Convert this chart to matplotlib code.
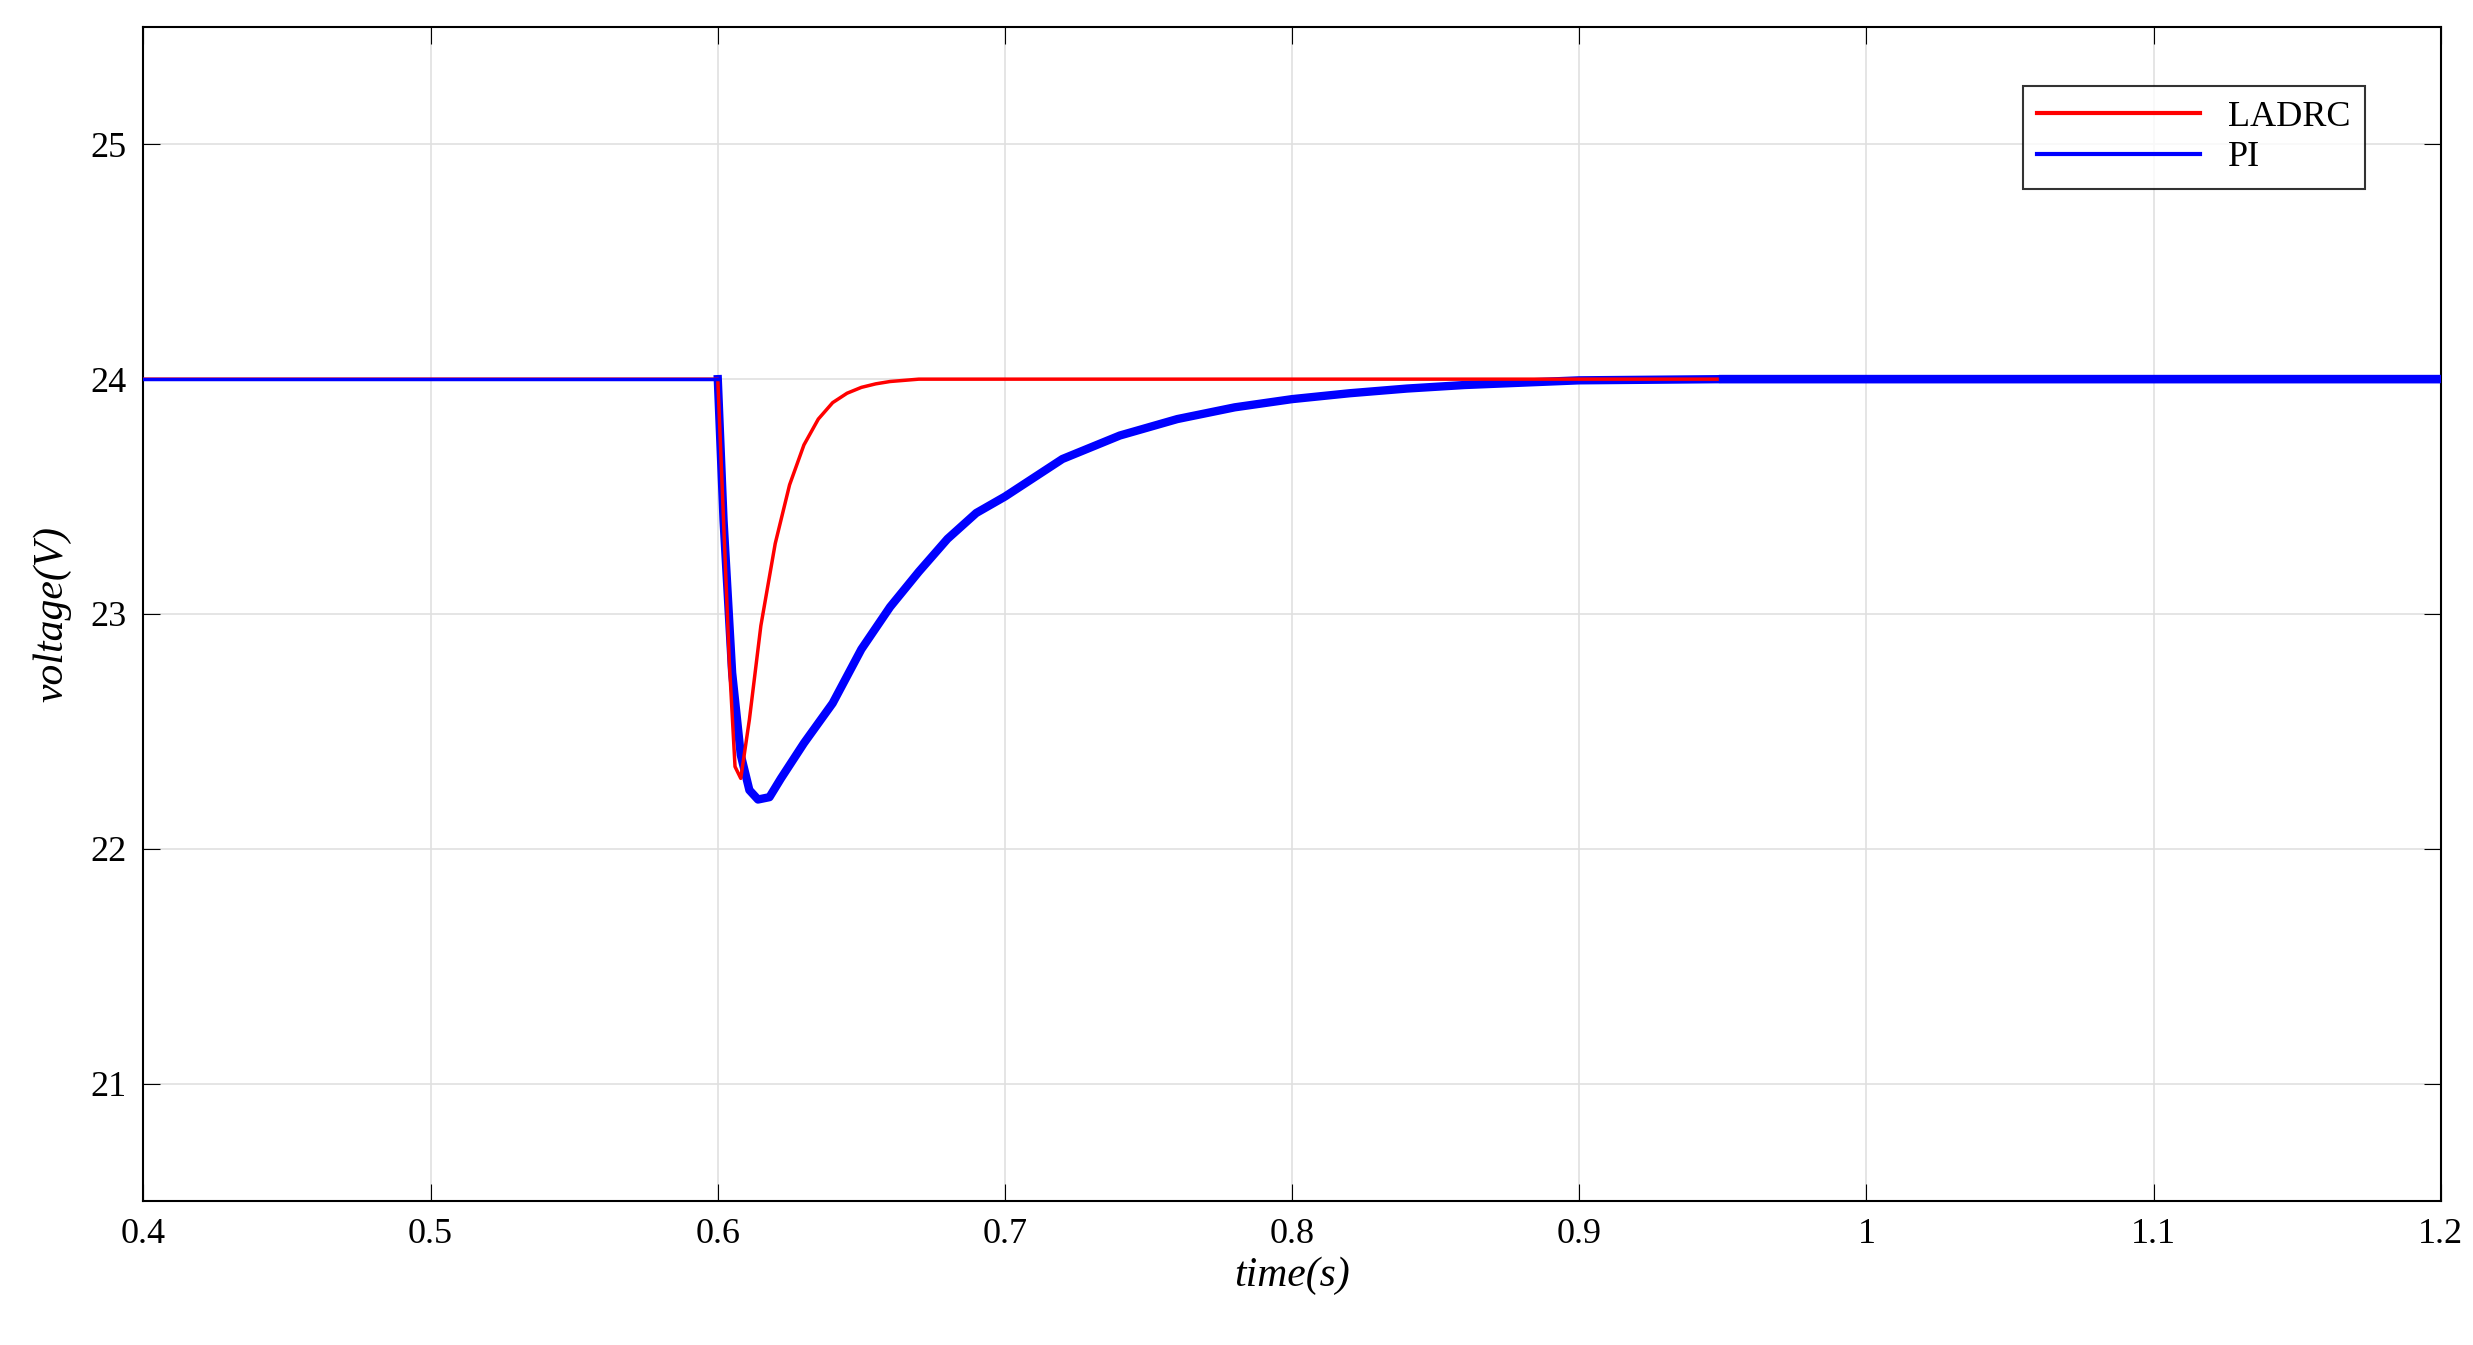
import matplotlib.pyplot as plt

# LADRC response
t_ladrc = [0.40, 0.600, 0.602, 0.604, 0.606, 0.608, 0.611, 0.615, 0.620, 0.625, 0.630, 0.635,
           0.640, 0.645, 0.650, 0.655, 0.660, 0.670, 0.680, 0.70, 0.80, 0.95]
v_ladrc = [24.0, 24.0, 23.4, 22.8, 22.35, 22.3, 22.55, 22.95, 23.3, 23.55, 23.72, 23.83,
           23.9, 23.94, 23.965, 23.98, 23.99, 24.0, 24.0, 24.0, 24.0, 24.0]

# PI response
t_pi = [0.40, 0.600, 0.602, 0.605, 0.608, 0.611, 0.614, 0.618, 0.622, 0.630, 0.640, 0.650,
        0.660, 0.670, 0.680, 0.690, 0.700, 0.710, 0.720, 0.740, 0.760, 0.780, 0.800,
        0.820, 0.840, 0.860, 0.880, 0.900, 0.950, 1.00, 1.20]
v_pi = [24.0, 24.0, 23.4, 22.75, 22.4, 22.25, 22.21, 22.22, 22.3, 22.45, 22.62, 22.85,
        23.03, 23.18, 23.32, 23.43, 23.5, 23.58, 23.66, 23.76, 23.83, 23.88, 23.915,
        23.94, 23.96, 23.975, 23.985, 23.995, 24.0, 24.0, 24.0]

plt.rcParams['font.family'] = ['Liberation Serif', 'DejaVu Serif']

fig = plt.figure(figsize=(24.73, 13.45), dpi=100)
ax = fig.add_axes([0.058, 0.107, 0.929, 0.873])

# thick PI trace after the step (ripple band)
ax.plot(t_pi[1:], v_pi[1:], color='#0000ff', lw=6, zorder=2)
ax.plot(t_ladrc, v_ladrc, color='#ff0000', lw=2.5, label='LADRC', zorder=3)
# thin PI trace before the step, drawn on top
ax.plot(t_pi[:2], v_pi[:2], color='#0000ff', lw=2.5, label='PI', zorder=4)
ax.plot([0.95, 1.2], [24.0, 24.0], color='#0000ff', lw=6, zorder=4)

ax.set_xlim(0.4, 1.2)
ax.set_ylim(20.5, 25.5)
ax.set_xticks([0.4, 0.5, 0.6, 0.7, 0.8, 0.9, 1.0, 1.1, 1.2])
ax.set_xticklabels(['0.4', '0.5', '0.6', '0.7', '0.8', '0.9', '1', '1.1', '1.2'])
ax.set_yticks([21, 22, 23, 24, 25])
ax.grid(True, color='#e0e0e0', lw=1.2)
ax.tick_params(labelsize=26, direction='in', length=12, top=True, right=True, pad=12)
for s in ax.spines.values():
    s.set_linewidth(1.5)

ax.set_xlabel('time(s)', fontsize=30, style='italic', labelpad=4)
ax.set_ylabel('voltage(V)', fontsize=30, style='italic', labelpad=14)

leg = ax.legend(loc='upper right', bbox_to_anchor=(0.975, 0.965), fontsize=26,
                fancybox=False, edgecolor='black', handlelength=4.5, borderpad=0.4,
                labelspacing=0.2)
leg.get_frame().set_linewidth(1.5)
for line in leg.get_lines():
    line.set_linewidth(3)

fig.savefig('out.png')
